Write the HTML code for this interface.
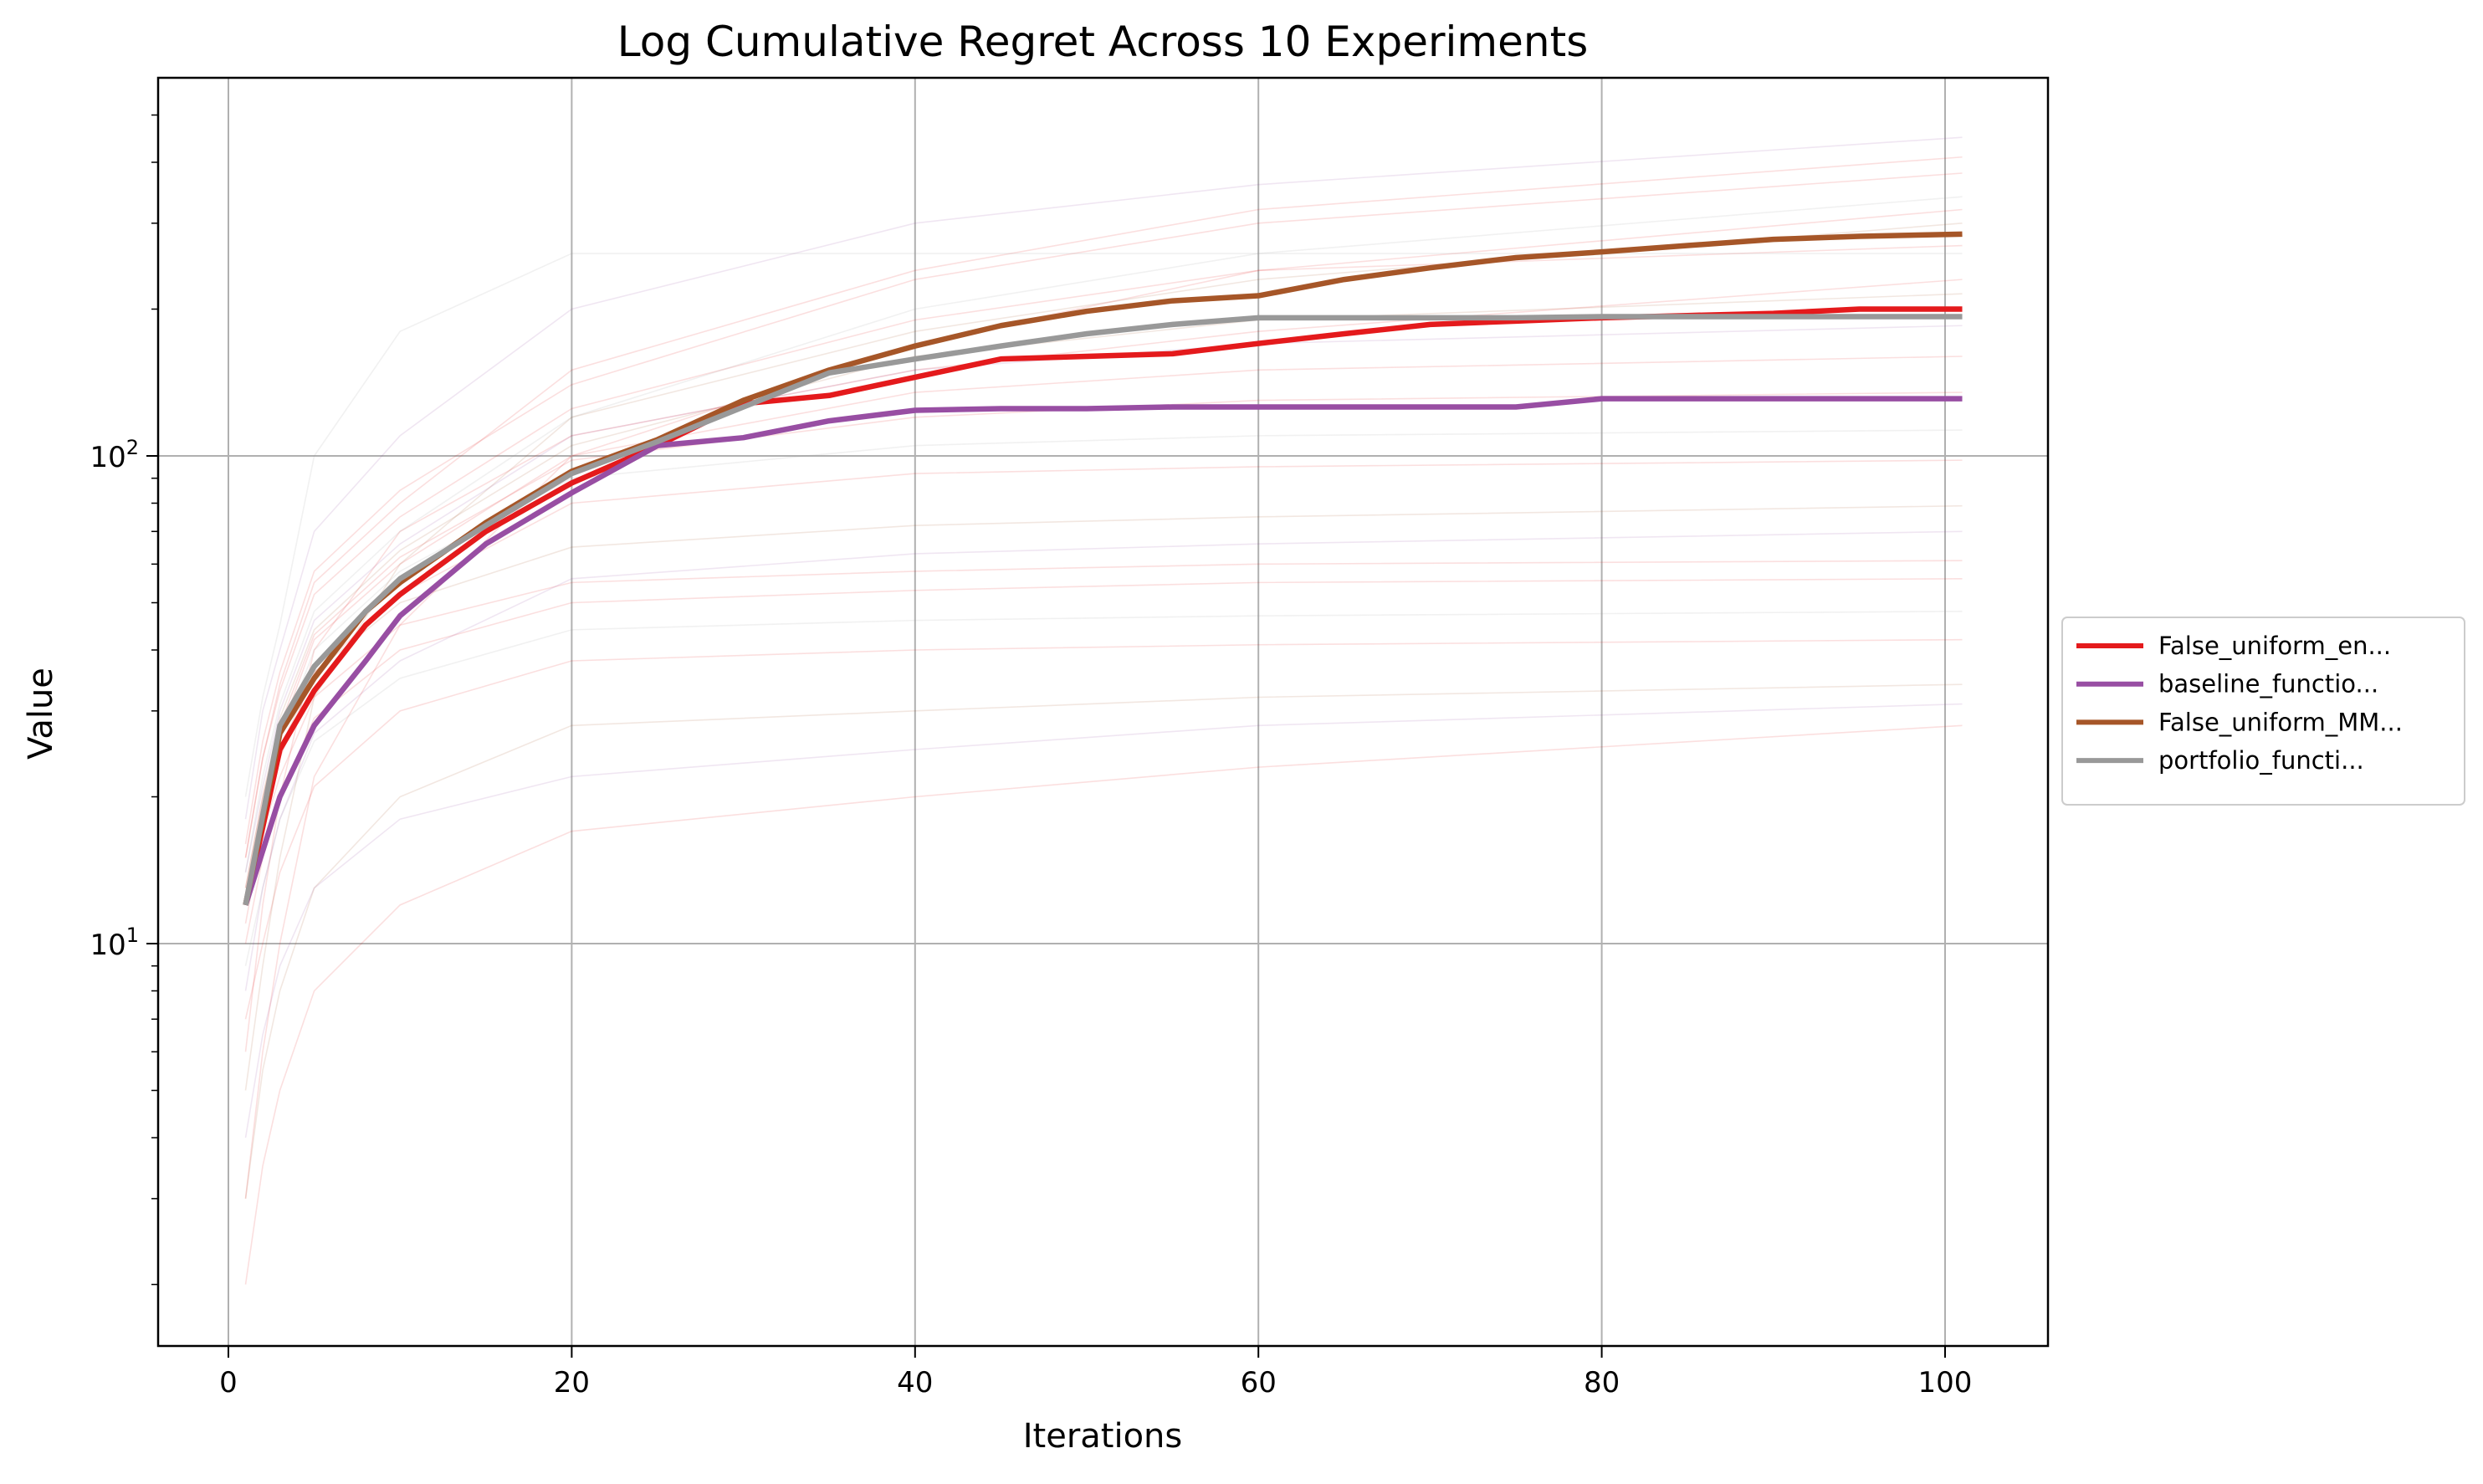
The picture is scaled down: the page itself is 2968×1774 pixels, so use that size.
<!DOCTYPE html>
<html><head><meta charset="utf-8"><style>
body{margin:0;background:#fff;font-family:"Liberation Sans","DejaVu Sans",sans-serif;}
</style></head><body>
<svg id="chart" width="2968" height="1769" xmlns="http://www.w3.org/2000/svg" font-family="DejaVu Sans, Liberation Sans, sans-serif">
<rect width="2968" height="1769" fill="#fff"/>
<g id="grid"></g>
<g id="faint"></g>
<g id="main"></g>
<rect x="189" y="93" width="2259" height="1516" fill="none" stroke="#000" stroke-width="2.5"/>
<g id="ticks"></g>
<text x="1318" y="67" font-size="50" text-anchor="middle">Log Cumulative Regret Across 10 Experiments</text>
<text x="1318" y="1730" font-size="40" text-anchor="middle">Iterations</text>
<text x="62" y="853" font-size="40" text-anchor="middle" transform="rotate(-90 62 853)">Value</text>
<g>
<rect x="2465" y="738" width="481" height="224" rx="6" fill="#fff" stroke="#ccc" stroke-width="2"/>
<g id="legend"></g>
</g>
</svg>
<script>
const xs = [1,3,5,8,10,15,20,25,30,35,40,45,50,55,60,65,70,75,80,85,90,95,101];
const seriesNames = ["False_uniform_en...","baseline_functio...","False_uniform_MM...","portfolio_functi..."];
const seriesColors = ["#e41a1c","#984ea3","#a65628","#999999"];
const redVals   = [12,25,33,45,52,70,88,105,128,133,145,158,160,162,170,178,186,189,192,194,196,200,200];
const purpleVals= [12,20,28,38,47,66,84,105,109,118,124,125,125,126,126,126,126,126,131,131,131,131,131];
const brownVals = [12,27,35,48,55,73,93,108,130,150,168,185,198,208,213,230,243,255,262,270,278,282,285];
const grayVals  = [12,28,37,48,56,72,92,107,126,148,158,168,178,186,192,192,192,192,193,193,193,193,193];
const faintX = [1,2,3,5,10,20,40,60,101];
const faintVals = [
 [2,3.5,5,8,12,17,20,23,28],[4,6.5,9,13,18,22,25,28,31],[3,5.5,8,13,20,28,30,32,34],[7,10,14,21,30,38,40,41,42],
 [9,13,18,26,35,44,46,47,48],[10,15,20,29,40,50,53,55,56],[12,17,22,32,45,55,58,60,61],[8,13,18,27,38,56,63,66,70],
 [12,18,25,36,50,65,72,75,79],[11,17,24,36,52,80,92,95,98],[12,18,26,40,58,90,105,110,113],[13,20,28,43,62,98,120,130,135],
 [12,19,27,42,60,100,135,150,160],[14,21,30,46,66,110,150,170,185],[13,20,29,44,64,105,160,190,215],[15,24,33,52,75,125,190,240,270],
 [14,22,31,48,70,120,200,260,340],[16,26,36,58,85,140,230,300,380],[15,24,34,55,80,150,240,320,410],[18,30,40,70,110,200,300,360,450],
 [5,9,15,32,60,120,180,230,300],[3,6,10,22,45,100,170,240,320],[20,32,45,100,180,260,260,260,260],[6,12,20,40,70,110,150,180,230]
];
const faintColors = ["#e41a1c","#984ea3","#a65628","#e41a1c","#999999","#e41a1c"];
const xTicks=[0,20,40,60,80,100];
const yTicks=[10,100];
const X=v=>273+v*20.52;
const Y=v=>545-(Math.log10(v)-2)*583;
const NS="http://www.w3.org/2000/svg";
function mk(tag,attrs,parent){const e=document.createElementNS(NS,tag);for(const k in attrs)e.setAttribute(k,attrs[k]);parent.appendChild(e);return e;}
const grid=document.getElementById('grid'),ticks=document.getElementById('ticks');
xTicks.forEach(t=>{
 const l=mk('line',{x1:X(t),x2:X(t),y1:93,y2:1609,stroke:'#b0b0b0','stroke-width':2},grid);
 
 
 mk('line',{x1:X(t),x2:X(t),y1:1609,y2:1623,stroke:'#000','stroke-width':2},ticks);
 const tx=mk('text',{x:X(t),y:1664,'font-size':34,'text-anchor':'middle'},ticks);tx.textContent=t;
 
 
});
yTicks.forEach((t,i)=>{
 const l=mk('line',{x1:189,x2:2448,y1:Y(t),y2:Y(t),stroke:'#b0b0b0','stroke-width':2},grid);
 
 
 mk('line',{x1:175,x2:189,y1:Y(t),y2:Y(t),stroke:'#000','stroke-width':2},ticks);
 const tx=mk('text',{x:166,y:Y(t)+13,'font-size':34,'text-anchor':'end'},ticks);
 tx.innerHTML='10<tspan dy="-15" font-size="24">'+(i+1)+'</tspan>';
 
 
});
for(let d=1;d<=3;d++)for(let m=2;m<=9;m++){const vv=m*Math.pow(10,d-1);if(vv<1.5||vv>596)continue;
 mk('line',{x1:181,x2:189,y1:Y(vv),y2:Y(vv),stroke:'#000','stroke-width':1.5},ticks);}
const faint=document.getElementById('faint');
faintVals.forEach((s,i)=>{
 const p=mk('polyline',{points:s.map((v,j)=>X(faintX[j])+','+Y(v)).join(' '),fill:'none',stroke:faintColors[i%faintColors.length],'stroke-opacity':0.14,'stroke-width':1.6},faint);
 
 
});
const main=document.getElementById('main');
[redVals,purpleVals,brownVals,grayVals].forEach((s,i)=>{
 const p=mk('polyline',{points:s.map((v,j)=>X(xs[j])+','+Y(v)).join(' '),fill:'none',stroke:seriesColors[i],'stroke-width':6.5,'stroke-linejoin':'round'},main);
 
 
});
const lg=document.getElementById('legend');
seriesNames.forEach((n,i)=>{
 const y=772+i*45.7;
 const l=mk('line',{x1:2482,x2:2562,y1:y,y2:y,stroke:seriesColors[i],'stroke-width':6}, lg);
 
 
 const t=mk('text',{x:2580,y:y+10,'font-size':29},lg);t.textContent=n;
 
 
});
</script>
</body></html>
